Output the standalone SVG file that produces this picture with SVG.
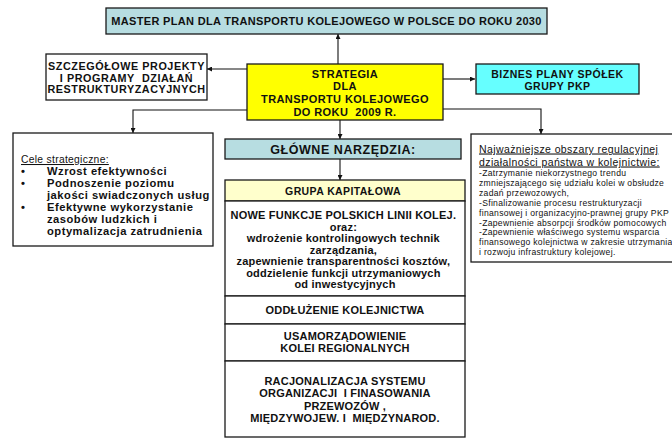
<svg xmlns="http://www.w3.org/2000/svg" width="672" height="439" viewBox="0 0 672 439">
<defs>
<marker id="ah" viewBox="0 0 10 10" refX="10" refY="5" markerWidth="5" markerHeight="5" orient="auto" markerUnits="userSpaceOnUse">
<path d="M0,0 L10,5 L0,10 z" fill="#111"/>
</marker>
<style>
.box{stroke:#1a1a1a;stroke-width:1.3}
.t{font-family:"Liberation Sans",Arial,sans-serif;fill:#111}
.b{font-weight:bold}
.c{text-anchor:middle}
.conn{fill:none;stroke:#111;stroke-width:1.1;marker-end:url(#ah)}
.u{text-decoration:underline}
.body{font-size:11px;letter-spacing:0.2px}
</style>
</defs>
<rect width="672" height="439" fill="#fff"/>

<g id="connectors">
<path class="conn" d="M338,64 L338,34"/>
<path class="conn" d="M247,69 L207,69"/>
<path class="conn" d="M443,79 L475,79"/>
<path class="conn" d="M247,110 L133,110 L133,133"/>
<path class="conn" d="M443,109 L541,109 L541,134"/>
<path class="conn" d="M340,120 L340,139"/>
<path class="conn" d="M340,159 L340,180"/>
</g>

<g id="master">
<rect class="box" x="106" y="8" width="441" height="26" fill="#b7dde1"/>
<text class="t b c" x="326.5" y="25" font-size="11" letter-spacing="0.32">MASTER PLAN DLA TRANSPORTU KOLEJOWEGO W POLSCE DO ROKU 2030</text>
</g>

<g id="szczegolowe">
<rect class="box" x="46" y="54" width="161" height="46" fill="#fff"/>
<text class="t b c" font-size="10.8" letter-spacing="0.55"><tspan x="126.5" y="70">SZCZEGÓŁOWE PROJEKTY</tspan><tspan x="126.5" y="81.5">I PROGRAMY&#160; DZIAŁAŃ</tspan><tspan x="126.5" y="93">RESTRUKTURYZACYJNYCH</tspan></text>
</g>

<g id="strategia">
<rect class="box" x="247" y="64" width="196" height="56" fill="#ffff00"/>
<text class="t b c" font-size="11" letter-spacing="0.4"><tspan x="345" y="78">STRATEGIA</tspan><tspan x="345" y="90">DLA</tspan><tspan x="345" y="103">TRANSPORTU KOLEJOWEGO</tspan><tspan x="345" y="116">DO ROKU&#160; 2009 R.</tspan></text>
</g>

<g id="biznes">
<rect class="box" x="476" y="64" width="163" height="30" fill="#66ffff"/>
<text class="t b c" font-size="10.5" letter-spacing="0.5"><tspan x="557.5" y="77.5">BIZNES PLANY SPÓŁEK</tspan><tspan x="557.5" y="89.5">GRUPY PKP</tspan></text>
</g>

<g id="cele">
<rect class="box" x="13" y="133" width="200" height="113" fill="#fff"/>
<text class="t u" x="21" y="163" font-size="10.3" letter-spacing="0.3">Cele strategiczne:</text>
<text class="t b" font-size="11.2" letter-spacing="0.5">
<tspan x="21" y="175">•</tspan><tspan x="47" y="175">Wzrost efektywności</tspan>
<tspan x="21" y="187">•</tspan><tspan x="47" y="187">Podnoszenie poziomu</tspan>
<tspan x="47" y="199">jakości swiadczonych usług</tspan>
<tspan x="21" y="211">•</tspan><tspan x="47" y="211">Efektywne wykorzystanie</tspan>
<tspan x="47" y="223">zasobów ludzkich i</tspan>
<tspan x="47" y="235">optymalizacja zatrudnienia</tspan>
</text>
</g>

<g id="obszary">
<rect class="box" x="471" y="134" width="215" height="128" fill="#fff"/>
<text class="t u" font-size="10.5" letter-spacing="0.4"><tspan x="479" y="152.5">Najważniejsze obszary regulacyjnej</tspan><tspan x="479" y="165.5">działalności państwa w kolejnictwie:</tspan></text>
<text class="t" font-size="8.6" letter-spacing="0.3">
<tspan x="479" y="176">-Zatrzymanie niekorzystnego trendu</tspan>
<tspan x="479" y="185.9">zmniejszającego się udziału kolei w obsłudze</tspan>
<tspan x="479" y="195.8">zadań przewozowych,</tspan>
<tspan x="479" y="205.7">-Sfinalizowanie procesu restrukturyzacji</tspan>
<tspan x="479" y="215.6">finansowej i organizacyjno-prawnej grupy PKP</tspan>
<tspan x="479" y="225.5">-Zapewnienie absorpcji środków pomocowych</tspan>
<tspan x="479" y="235.4">-Zapewnienie właściwego systemu wsparcia</tspan>
<tspan x="479" y="245.3">finansowego kolejnictwa w zakresie utrzymania</tspan>
<tspan x="479" y="255.2">i rozwoju infrastruktury kolejowej.</tspan>
</text>
</g>

<g id="glowne">
<rect class="box" x="225" y="139" width="236" height="20" fill="#b7dde1"/>
<text class="t b c" x="343" y="154" font-size="12.5" letter-spacing="0.55">GŁÓWNE NARZĘDZIA:</text>
</g>

<g id="grupa">
<rect class="box" x="225" y="180" width="240" height="21" fill="#ffffcc"/>
<text class="t b c" x="343" y="195" font-size="10.5" letter-spacing="0.4">GRUPA KAPITAŁOWA</text>
<rect class="box" x="225" y="201" width="240" height="95" fill="#fff"/>
<text class="t b c body">
<tspan x="345" y="219">NOWE FUNKCJE POLSKICH LINII KOLEJ.</tspan>
<tspan x="345" y="230.5">oraz:</tspan>
<tspan x="345" y="242">wdrożenie kontrolingowych technik</tspan>
<tspan x="345" y="253.5">zarządzania,</tspan>
<tspan x="345" y="265">zapewnienie transparentności kosztów,</tspan>
<tspan x="345" y="276.5">oddzielenie funkcji utrzymaniowych</tspan>
<tspan x="345" y="288">od inwestycyjnych</tspan>
</text>
<rect class="box" x="225" y="296" width="240" height="28" fill="#fff"/>
<text class="t b c body" x="345" y="314">ODDŁUŻENIE KOLEJNICTWA</text>
<rect class="box" x="225" y="324" width="240" height="37" fill="#fff"/>
<text class="t b c body"><tspan x="345" y="340">USAMORZĄDOWIENIE</tspan><tspan x="345" y="352">KOLEI REGIONALNYCH</tspan></text>
<rect class="box" x="225" y="361" width="240" height="76" fill="#fff"/>
<text class="t b c body"><tspan x="345" y="385">RACJONALIZACJA SYSTEMU</tspan><tspan x="345" y="397">ORGANIZACJI&#160; I FINASOWANIA</tspan><tspan x="345" y="409.5">PRZEWOZÓW ,</tspan><tspan x="345" y="422">MIĘDZYWOJEW. I&#160; MIĘDZYNAROD.</tspan></text>
</g>
</svg>
